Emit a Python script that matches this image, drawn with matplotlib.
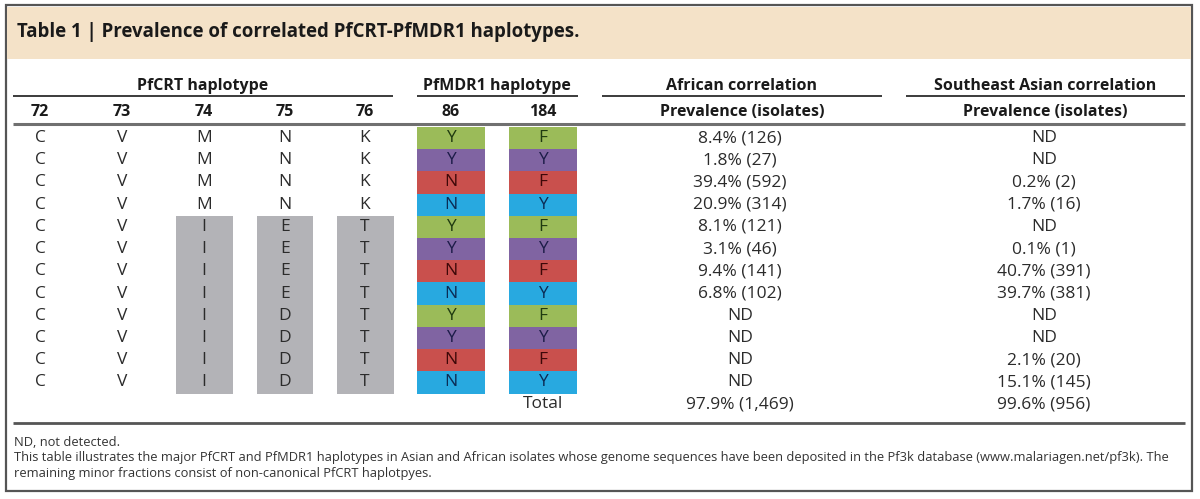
import matplotlib
matplotlib.use('Agg')
import matplotlib.pyplot as plt
from matplotlib.patches import Rectangle

plt.rcParams['font.family'] = ['Open Sans', 'DejaVu Sans']

# table content
title = 'Table 1 | Prevalence of correlated PfCRT-PfMDR1 haplotypes.'
crt_cols = ['72', '73', '74', '75', '76']
mdr_cols = ['86', '184']
pos72 = ['C', 'C', 'C', 'C', 'C', 'C', 'C', 'C', 'C', 'C', 'C', 'C']
pos73 = ['V', 'V', 'V', 'V', 'V', 'V', 'V', 'V', 'V', 'V', 'V', 'V']
pos74 = ['M', 'M', 'M', 'M', 'I', 'I', 'I', 'I', 'I', 'I', 'I', 'I']
pos75 = ['N', 'N', 'N', 'N', 'E', 'E', 'E', 'E', 'D', 'D', 'D', 'D']
pos76 = ['K', 'K', 'K', 'K', 'T', 'T', 'T', 'T', 'T', 'T', 'T', 'T']
pos86 = ['Y', 'Y', 'N', 'N', 'Y', 'Y', 'N', 'N', 'Y', 'Y', 'N', 'N']
pos184 = ['F', 'Y', 'F', 'Y', 'F', 'Y', 'F', 'Y', 'F', 'Y', 'F', 'Y']
african = ['8.4% (126)', '1.8% (27)', '39.4% (592)', '20.9% (314)', '8.1% (121)', '3.1% (46)',
           '9.4% (141)', '6.8% (102)', 'ND', 'ND', 'ND', 'ND']
asian = ['ND', 'ND', '0.2% (2)', '1.7% (16)', 'ND', '0.1% (1)',
         '40.7% (391)', '39.7% (381)', 'ND', 'ND', '2.1% (20)', '15.1% (145)']
african_total = '97.9% (1,469)'
asian_total = '99.6% (956)'
footnotes = ['ND, not detected.',
             'This table illustrates the major PfCRT and PfMDR1 haplotypes in Asian and African isolates whose genome sequences have been deposited in the Pf3k database (www.malariagen.net/pf3k). The',
             'remaining minor fractions consist of non-canonical PfCRT haplotpyes.']

combo_colors = {('Y', 'F'): '#9bbb59', ('Y', 'Y'): '#8064a2', ('N', 'F'): '#c9504d', ('N', 'Y'): '#28a9e0'}
combo_text = {('Y', 'F'): '#1f3a10', ('Y', 'Y'): '#1c1c48', ('N', 'F'): '#3d0808', ('N', 'Y'): '#0b2c55'}

fig = plt.figure(figsize=(12, 4.99), dpi=100)
ax = fig.add_axes([0, 0, 1, 1])
ax.set_xlim(0, 1200)
ax.set_ylim(499, 0)
ax.axis('off')

# frame and title band
ax.add_patch(Rectangle((6, 5), 1186, 486, fill=False, edgecolor='#555555', lw=1.6))
ax.add_patch(Rectangle((7, 7), 1184, 52, facecolor='#f4e2c8', edgecolor='none'))
t_title = ax.text(17, 32, title, fontsize=13, fontweight='bold', color='#1a1a1a', va='center')

# column centres
crt_x = [40, 122, 204, 285, 365]
mdr_x = [451, 543]
afr_x = 740
asn_x = 1044
box_w = [57, 56, 57]
row_top = 127
row_h = 22.2

hdr_kw = dict(fontsize=11.5, fontweight='bold', color='#1a1a1a', ha='center', va='center')
ax.text(203, 86, 'PfCRT haplotype', **hdr_kw)
ax.text(497, 86, 'PfMDR1 haplotype', **hdr_kw)
ax.text(742, 86, 'African correlation', **hdr_kw)
ax.text(1045, 86, 'Southeast Asian correlation', **hdr_kw)
for x0, x1 in [(13, 393), (417, 578), (602, 882), (906, 1185)]:
    ax.plot([x0, x1], [96, 96], color='#1a1a1a', lw=1.2, solid_capstyle='butt')
for lab, x in zip(crt_cols + mdr_cols, crt_x + mdr_x):
    ax.text(x, 112, lab, **hdr_kw)
ax.text(742, 112, 'Prevalence (isolates)', **hdr_kw)
ax.text(1045, 112, 'Prevalence (isolates)', **hdr_kw)
ax.plot([13, 1185], [123.5, 123.5], color='#707070', lw=2.2, solid_capstyle='butt')

# rows
cell_kw = dict(fontsize=12.5, ha='center', va='center')
crt_data = [pos72, pos73, pos74, pos75, pos76]
for i in range(len(pos72)):
    yc = row_top + row_h * (i + 0.5)
    ytop = row_top + row_h * i
    for j, col in enumerate(crt_data):
        if j >= 2 and col[i] != col[0]:
            w = box_w[j - 2]
            ax.add_patch(Rectangle((crt_x[j] - w / 2, ytop), w, row_h + 0.3,
                                   facecolor='#b3b3b7', edgecolor='none'))
        ax.text(crt_x[j], yc, col[i], color='#2b2b2b', **cell_kw)
    combo = (pos86[i], pos184[i])
    for x, res in zip(mdr_x, combo):
        ax.add_patch(Rectangle((x - 34, ytop), 68, row_h + 0.3,
                               facecolor=combo_colors[combo], edgecolor='none'))
        ax.text(x, yc, res, color=combo_text[combo], **cell_kw)
    ax.text(afr_x, yc, african[i], color='#2b2b2b', **cell_kw)
    ax.text(asn_x, yc, asian[i], color='#2b2b2b', **cell_kw)

ytot = row_top + row_h * (len(pos72) + 0.5)
ax.text(mdr_x[1], ytot, 'Total', color='#2b2b2b', **cell_kw)
ax.text(afr_x, ytot, african_total, color='#2b2b2b', **cell_kw)
ax.text(asn_x, ytot, asian_total, color='#2b2b2b', **cell_kw)

ax.plot([13, 1185], [423, 423], color='#555555', lw=2.0, solid_capstyle='butt')

# footnotes
foot_y = [442, 457.5, 473]
foot_txt = [ax.text(14, y, s, fontsize=8.5, color='#333333', va='center') for s, y in zip(footnotes, foot_y)]

# fit title and footnote widths to the original
fig.canvas.draw()
r = fig.canvas.get_renderer()
bb = t_title.get_window_extent(r)
t_title.set_fontsize(t_title.get_fontsize() * 556 / bb.width)
bb = foot_txt[1].get_window_extent(r)
fs = foot_txt[1].get_fontsize() * 1141 / bb.width
for t in foot_txt:
    t.set_fontsize(fs)

fig.savefig('out.png', dpi=100)
